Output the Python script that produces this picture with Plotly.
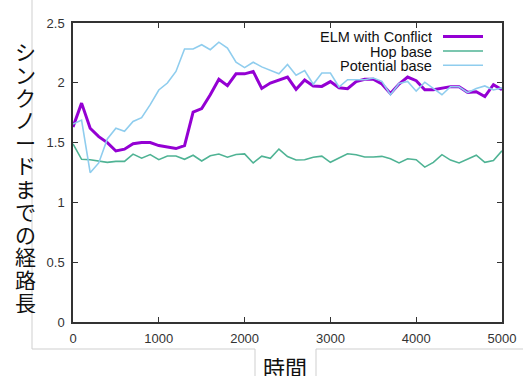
import plotly.graph_objects as go

times = [0, 100, 200, 300, 400, 500, 600, 700, 800, 900,
         1000, 1100, 1200, 1300, 1400, 1500, 1600, 1700, 1800, 1900,
         2000, 2100, 2200, 2300, 2400, 2500, 2600, 2700, 2800, 2900,
         3000, 3100, 3200, 3300, 3400, 3500, 3600, 3700, 3800, 3900,
         4000, 4100, 4200, 4300, 4400, 4500, 4600, 4700, 4800, 4900, 5000]

elm_conflict = [1.63, 1.83, 1.62, 1.55, 1.50, 1.43, 1.445, 1.49, 1.50, 1.50,
                1.475, 1.465, 1.45, 1.475, 1.755, 1.785, 1.90, 2.03, 1.976, 2.075,
                2.075, 2.095, 1.953, 1.998, 2.02, 2.048, 1.945, 2.023, 1.973, 1.97,
                2.01, 1.958, 1.951, 2.01, 2.03, 2.03, 1.99, 1.91, 1.99, 2.048,
                2.018, 1.942, 1.942, 1.956, 1.968, 1.968, 1.92, 1.925, 1.885, 1.984, 1.942]

hop_base = [1.49, 1.36, 1.357, 1.343, 1.335, 1.343, 1.343, 1.404, 1.37, 1.40,
            1.357, 1.388, 1.388, 1.36, 1.394, 1.346, 1.39, 1.405, 1.378, 1.40,
            1.406, 1.33, 1.387, 1.368, 1.446, 1.383, 1.354, 1.356, 1.377, 1.387,
            1.335, 1.371, 1.407, 1.398, 1.38, 1.38, 1.385, 1.365, 1.33, 1.365,
            1.357, 1.295, 1.335, 1.399, 1.354, 1.33, 1.361, 1.395, 1.335, 1.35, 1.432]

potential_base = [1.655, 1.688, 1.248, 1.33, 1.53, 1.62, 1.594, 1.677, 1.708, 1.817,
                  1.94, 1.998, 2.095, 2.282, 2.282, 2.318, 2.277, 2.34, 2.29, 2.172,
                  2.127, 2.172, 2.133, 2.102, 2.075, 2.154, 2.063, 2.102, 1.988, 2.082,
                  2.082, 1.965, 2.026, 2.026, 2.026, 2.04, 2.012, 1.90, 1.995, 2.012,
                  1.93, 2.005, 1.956, 1.90, 1.967, 1.967, 1.918, 1.953, 1.974, 1.94, 1.958]

series_names = ["ELM with Conflict", "Hop base", "Potential base"]
y_title = "シンクノードまでの経路長"
x_title = "時間"
x_ticks = [0, 1000, 2000, 3000, 4000, 5000]
y_ticks = [0, 0.5, 1, 1.5, 2, 2.5]

colors = ["#9400D3", "#4fb394", "#8fcdee"]
widths = [3, 1.6, 1.6]

W, H = 523, 376
L, R, T, B = 73, 21, 23, 54
PW, PH = W - L - R, H - T - B


def px(x):
    return (x - L) / PW


def py(y):
    return (H - B - y) / PH


fig = go.Figure()
for name, ys, c, w in zip(series_names, [elm_conflict, hop_base, potential_base], colors, widths):
    fig.add_trace(go.Scatter(x=times, y=ys, mode="lines", name=name,
                             line=dict(color=c, width=w), showlegend=False))

shapes = []
annotations = []

# custom legend (text on left, line sample on right)
legend_rows = [36.5, 51, 65.3]
for name, c, w, yy in zip(series_names, colors, widths, legend_rows):
    annotations.append(dict(text=name, xref="paper", yref="paper", x=px(434), y=py(yy),
                            xanchor="right", yanchor="middle", showarrow=False, height=15,
                            font=dict(family="Liberation Sans, Arial", size=14.5, color="#111")))
    shapes.append(dict(type="line", xref="paper", yref="paper", x0=px(443), x1=px(483),
                       y0=py(yy), y1=py(yy), line=dict(color=c, width=w)))

# vertical y title (upright stacked characters)
n = len(y_title)
y0c, y1c = 51, 302
for i, ch in enumerate(y_title):
    yy = y0c + (y1c - y0c) * i / (n - 1)
    annotations.append(dict(text=ch, xref="paper", yref="paper", x=px(25), y=py(yy),
                            xanchor="center", yanchor="middle", showarrow=False, height=22,
                            font=dict(family="Noto Sans CJK JP", size=21, color="#111")))

annotations.append(dict(text=x_title, xref="paper", yref="paper", x=px(285), y=py(366),
                        xanchor="center", yanchor="middle", showarrow=False,
                        font=dict(family="Noto Sans CJK JP", size=22, color="#111")))

# light grey slide frame lines
grey = dict(color="#cfcfcf", width=1)
for (xa, ya, xb, yb) in [(32, 0, 32, 349), (32, 349, 255, 349), (255, 349, 255, 376),
                         (316, 349, 523, 349), (316, 349, 316, 376)]:
    shapes.append(dict(type="line", xref="paper", yref="paper", x0=px(xa), x1=px(xb),
                       y0=py(ya), y1=py(yb), line=grey, layer="below"))

axis_common = dict(showline=True, linecolor="#333", linewidth=1.5, mirror="ticks",
                   ticks="inside", ticklen=5, tickwidth=1.2, tickcolor="#333",
                   showgrid=False, zeroline=False, automargin=False,
                   tickfont=dict(family="Liberation Sans, Arial", size=13, color="#333"))

fig.update_layout(
    width=W, height=H,
    margin=dict(l=L, r=R, t=T, b=B),
    paper_bgcolor="white", plot_bgcolor="white",
    xaxis=dict(range=[0, 5000], tickvals=x_ticks, ticklabelstandoff=4, **axis_common),
    yaxis=dict(range=[0, 2.5], tickvals=y_ticks, ticklabelstandoff=4, **axis_common),
    shapes=shapes, annotations=annotations,
)

fig.write_html("out.html", config={"displayModeBar": False},
               post_script="document.body.style.margin='0';")
